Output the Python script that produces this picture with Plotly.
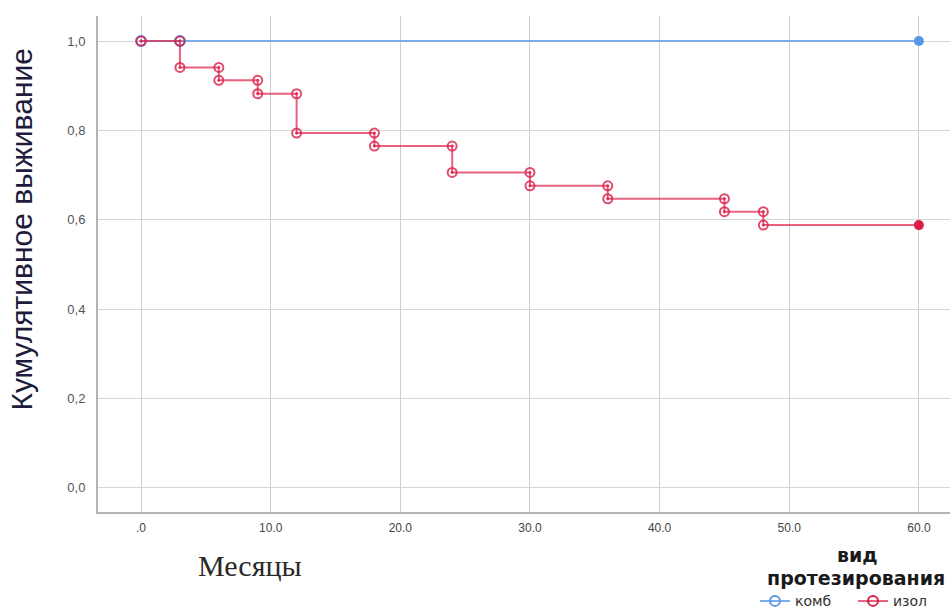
import plotly.graph_objects as go

# Kaplan-Meier survival by prosthesis type
months_izol = [0, 3, 6, 9, 12, 18, 24, 30, 36, 45, 48]
surv_izol = [1.0, 0.941, 0.912, 0.882, 0.794, 0.765, 0.706, 0.676, 0.647, 0.618, 0.588]
follow_end = 60
months_komb = [0, 60]
surv_komb = [1.0, 1.0]

x_ticks = [0, 10, 20, 30, 40, 50, 60]
x_tick_text = [".0", "10.0", "20.0", "30.0", "40.0", "50.0", "60.0"]
y_ticks = [0.0, 0.2, 0.4, 0.6, 0.8, 1.0]
y_tick_text = ["0,0", "0,2", "0,4", "0,6", "0,8", "1,0"]

RED = "rgb(218,30,72)"
RED_LINE = "rgba(225,45,85,0.75)"
BLUE = "rgb(90,150,230)"
BLUE_LINE = "rgba(100,160,230,0.85)"

# step corners (before/after each drop) for marker placement
corner_x = [months_izol[0]]
corner_y = [surv_izol[0]]
for i in range(1, len(months_izol)):
    corner_x += [months_izol[i], months_izol[i]]
    corner_y += [surv_izol[i - 1], surv_izol[i]]

fig = go.Figure()

# комб: flat curve
fig.add_trace(go.Scatter(
    x=months_komb, y=surv_komb, mode="lines", line=dict(color=BLUE_LINE, width=2),
    showlegend=False, hoverinfo="skip"))
fig.add_trace(go.Scatter(
    x=[months_komb[0], months_izol[1]], y=[surv_komb[0], surv_komb[0]], mode="markers",
    marker=dict(symbol="circle-open-dot", size=10, color=BLUE, line=dict(width=2)),
    showlegend=False, hoverinfo="skip"))
fig.add_trace(go.Scatter(
    x=[months_komb[-1]], y=[surv_komb[-1]], mode="markers",
    marker=dict(symbol="circle", size=10, color=BLUE),
    showlegend=False, hoverinfo="skip"))

# изол: step curve
fig.add_trace(go.Scatter(
    x=months_izol + [follow_end], y=surv_izol + [surv_izol[-1]], mode="lines",
    line=dict(color=RED_LINE, width=2, shape="hv"),
    showlegend=False, hoverinfo="skip"))
fig.add_trace(go.Scatter(
    x=corner_x, y=corner_y, mode="markers",
    marker=dict(symbol="circle-open-dot", size=9, color=RED, line=dict(width=2), opacity=0.8),
    showlegend=False, hoverinfo="skip"))
fig.add_trace(go.Scatter(
    x=[follow_end], y=[surv_izol[-1]], mode="markers",
    marker=dict(symbol="circle", size=10, color=RED),
    showlegend=False, hoverinfo="skip"))

# legend entries, one legend box per group
fig.add_trace(go.Scatter(
    x=[None], y=[None], mode="lines+markers", name="комб", legend="legend",
    line=dict(color=BLUE_LINE, width=2),
    marker=dict(symbol="circle-open", size=10, color=BLUE, line=dict(width=2))))
fig.add_trace(go.Scatter(
    x=[None], y=[None], mode="lines+markers", name="изол", legend="legend2",
    line=dict(color=RED_LINE, width=2),
    marker=dict(symbol="circle-open", size=10, color=RED, line=dict(width=2))))

legend_style = dict(
    orientation="h", xanchor="left", y=-0.18, yanchor="middle",
    font=dict(size=14, color="#333", family="DejaVu Sans, Verdana, sans-serif"),
    itemwidth=30, bgcolor="rgba(0,0,0,0)")

fig.update_layout(
    width=950, height=613,
    margin=dict(l=98, r=0, t=16, b=101, autoexpand=False),
    paper_bgcolor="white", plot_bgcolor="white",
    font=dict(family="Liberation Sans, Arial, sans-serif", color="#444"),
    showlegend=True,
    legend=dict(x=(755 - 98) / 852, **legend_style),
    legend2=dict(x=(853 - 98) / 852, **legend_style),
    xaxis=dict(
        range=[-3.32, 62.4], tickvals=x_ticks, ticktext=x_tick_text,
        showgrid=True, gridcolor="#cfcfcf", gridwidth=1, zeroline=False,
        showline=True, linecolor="#b5b5b5", linewidth=2,
        tickfont=dict(family="Liberation Sans Narrow, Arial Narrow, sans-serif", size=12, color="#444"),
        ticks="", ticklabelstandoff=4),
    yaxis=dict(
        range=[-0.054, 1.056], tickvals=y_ticks, ticktext=y_tick_text,
        showgrid=True, gridcolor="#d6d6d6", gridwidth=1, zeroline=False,
        showline=True, linecolor="#b5b5b5", linewidth=2,
        tickfont=dict(size=13, color="#555"), ticks="", ticklabelstandoff=8),
    annotations=[
        dict(text="Кумулятивное выживание", textangle=-90, xref="paper", yref="paper",
             x=-0.09, y=0.57, xanchor="center", yanchor="middle", showarrow=False,
             font=dict(size=30, color="#1c1c3c", family="Liberation Sans, Arial, sans-serif")),
        dict(text="Месяцы", xref="paper", yref="paper", x=0.178, y=-0.107,
             xanchor="center", yanchor="middle", showarrow=False,
             font=dict(size=30, color="#2a2a2a", family="Liberation Serif, Times New Roman, serif")),
        dict(text="<b>вид</b>", xref="paper", yref="paper", x=(857 - 98) / 852, y=(512 - 555) / 496,
             xanchor="center", yanchor="middle", showarrow=False,
             font=dict(size=19, color="#1a1a1a", family="DejaVu Sans, Verdana, sans-serif")),
        dict(text="<b>протезирования</b>", xref="paper", yref="paper", x=(856 - 98) / 852,
             y=(512 - 578) / 496, xanchor="center", yanchor="middle", showarrow=False,
             font=dict(size=19, color="#1a1a1a", family="DejaVu Sans, Verdana, sans-serif")),
    ],
)

fig.write_html("out.html")
